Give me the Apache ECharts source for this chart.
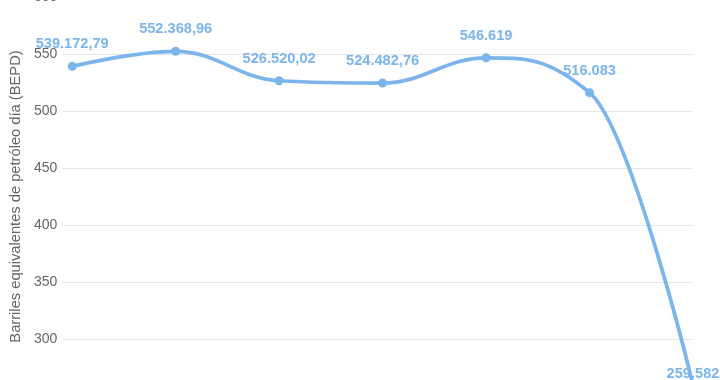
<!DOCTYPE html>
<html><head><meta charset="utf-8">
<script src="https://cdn.jsdelivr.net/npm/echarts@6/dist/echarts.min.js"></script>
<style>html,body{margin:0;padding:0;width:720px;height:380px;overflow:hidden;background:#fff}
#c{position:absolute;left:0;top:-40px;width:720px;height:480px}</style>
</head><body><div id="c"></div>
<script>
const categories = ['2016','2017','2018','2019','2020','2021','2022'];
const production = [539172.79, 552368.96, 526520.02, 524482.76, 546619, 516083, 259582];
const yTicks = [250000, 300000, 350000, 400000, 450000, 500000, 550000, 600000];

function fmtEs(v){
  const neg = v < 0; v = Math.abs(v);
  let intPart = Math.floor(v);
  let dec = Math.round((v - intPart) * 100);
  if (dec === 100) { intPart += 1; dec = 0; }
  const s = String(intPart).replace(/\B(?=(\d{3})+(?!\d))/g, '.');
  return (neg ? '-' : '') + s + (dec ? ',' + String(dec).padStart(2, '0') : '');
}

// Spline in the style of a classic "spline" chart (smoothing 1.5, clamped)
function splineSegments(pts){
  const n = pts.length, S = 1.5, D = 2.5;
  const left = [], right = [];
  for (let i = 0; i < n; i++){
    const p = pts[i];
    left[i] = [p[0], p[1]]; right[i] = [p[0], p[1]];
    if (i > 0 && i < n-1){
      const a = pts[i-1], b = pts[i+1];
      let lx = (S*p[0] + a[0])/D, ly = (S*p[1] + a[1])/D;
      let rx = (S*p[0] + b[0])/D, ry = (S*p[1] + b[1])/D;
      if (rx !== lx){
        const corr = ((ry - ly)*(rx - p[0]))/(rx - lx) + p[1] - ry;
        ly += corr; ry += corr;
      }
      if (ly > a[1] && ly > p[1]) { ly = Math.max(a[1], p[1]); ry = 2*p[1] - ly; }
      else if (ly < a[1] && ly < p[1]) { ly = Math.min(a[1], p[1]); ry = 2*p[1] - ly; }
      if (ry > b[1] && ry > p[1]) { ry = Math.max(b[1], p[1]); ly = 2*p[1] - ry; }
      else if (ry < b[1] && ry < p[1]) { ry = Math.min(b[1], p[1]); ly = 2*p[1] - ry; }
      left[i] = [lx, ly]; right[i] = [rx, ry];
    }
  }
  const segs = [];
  for (let i = 1; i < n; i++){
    segs.push({x1:pts[i-1][0], y1:pts[i-1][1], cpx1:right[i-1][0], cpy1:right[i-1][1],
               cpx2:left[i][0], cpy2:left[i][1], x2:pts[i][0], y2:pts[i][1]});
  }
  return segs;
}

const chart = echarts.init(document.getElementById('c'), null, {renderer:'canvas'});
const font = '"Liberation Sans", Arial, sans-serif';
const lineColor = '#7cb5ec';
chart.setOption({
  animation:false,
  grid:{left:59, right:27, top:37, bottom:44},
  xAxis:{type:'value', min:-0.096, max:categories.length-1, show:false,
    axisLabel:{formatter:(v)=>categories[v]||''}},
  yAxis:{type:'value', min:yTicks[0], max:yTicks[yTicks.length-1], interval:50000,
    name:'Barriles equivalentes de petróleo día (BEPD)', nameLocation:'middle', nameGap:38,
    nameTextStyle:{color:'#666', fontSize:14.7, fontFamily:font},
    axisLine:{show:false}, axisTick:{show:false},
    axisLabel:{color:'#666', fontSize:14, fontFamily:font, margin:5, formatter:(v)=>String(v/1000)},
    splitLine:{lineStyle:{color:'#e6e6e6', width:1}}},
  series:[
    {
      type:'custom', clip:false, z:2,
      data:[[0, production[0]]],
      renderItem:(params, api)=>{
        const pts = production.map((v,i)=>api.coord([i, v]));
        const segs = splineSegments(pts);
        return {type:'group', children: segs.map(s=>({
          type:'bezierCurve', shape:s,
          style:{stroke:lineColor, lineWidth:3.7, fill:null, lineCap:'round'}
        }))};
      }
    },
    {
      type:'scatter', z:3,
      data: production.map((v,i)=> i === production.length-1
        ? {value:[i,v], label:{offset:[0,11]}}
        : {value:[i,v]}),
      symbol:'circle', symbolSize:9,
      itemStyle:{color:lineColor, opacity:1},
      label:{show:true, position:'top', distance:10, color:lineColor, fontWeight:'bold', fontSize:14.6, fontFamily:font,
        formatter:(p)=>fmtEs(p.value[1])}
    }
  ]
});
</script></body></html>
